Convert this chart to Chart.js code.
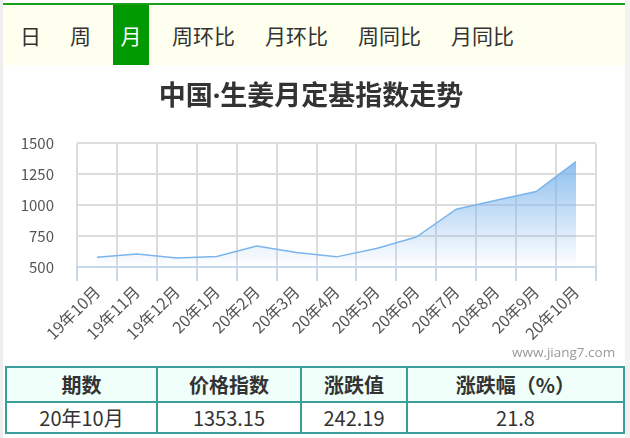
<!DOCTYPE html>
<html>
<head>
<meta charset="utf-8">
<script src="https://cdn.jsdelivr.net/npm/chart.js@4"></script>
<style>
  body { margin: 0; background: #fff; font-family: "Noto Sans CJK SC", sans-serif; }
  .wrap { position: relative; width: 630px; height: 438px; background: #fff; overflow: hidden; }
  .edge-l { position: absolute; left: 0; top: 0; width: 3px; height: 438px; background: #eeeeee; }
  .edge-r { position: absolute; left: 625px; top: 0; width: 5px; height: 438px; background: #f2f2f2; }
  .topline { position: absolute; left: 3px; top: 3px; width: 622px; height: 2px; background: #1aa01a; }
  .tabs { position: absolute; left: 3px; top: 5px; width: 622px; height: 60px; background: #fffff0; }
  .tab { position: absolute; top: 0; height: 60px; line-height: 60px; font-size: 21px; color: #333; }
  .tab.on { background: #009900; color: #fff; text-align: center; }
  #box { position: absolute; left: 3px; top: 65px; width: 622px; height: 300px; }
  .mark { position: absolute; left: 512px; top: 343px; font-size: 13.5px; color: #999; font-family: "Open Sans", sans-serif; }
  table { position: absolute; left: 5px; top: 366px; width: 620px; border-collapse: collapse; }
  td { border: 2px solid #3a9e9a; text-align: center; font-size: 20px; color: #333; padding: 0; }
  tr.head td { background: #f0fffa; font-weight: bold; height: 33px; }
  tr.row td { height: 29px; }
</style>
</head>
<body>
<div class="wrap">
  <div class="edge-l"></div>
  <div class="edge-r"></div>
  <div class="topline"></div>
  <div class="tabs">
    <span class="tab" style="left:17px">日</span>
    <span class="tab" style="left:67px">周</span>
    <span class="tab on" style="left:110px;width:36px">月</span>
    <span class="tab" style="left:169px">周环比</span>
    <span class="tab" style="left:262px">月环比</span>
    <span class="tab" style="left:355px">周同比</span>
    <span class="tab" style="left:448px">月同比</span>
  </div>
  <div id="box"><canvas id="myChart"></canvas></div>
  <div class="mark">www.jiang7.com</div>
  <table>
    <tr class="head"><td style="width:149px">期数</td><td style="width:142px">价格指数</td><td style="width:104px">涨跌值</td><td>涨跌幅（%）</td></tr>
    <tr class="row"><td>20年10月</td><td>1353.15</td><td>242.19</td><td>21.8</td></tr>
  </table>
</div>
<script>
var months = ['19年10月', '19年11月', '19年12月', '20年1月', '20年2月', '20年3月', '20年4月',
              '20年5月', '20年6月', '20年7月', '20年8月', '20年9月', '20年10月'];
var indexValues = [579, 606, 573, 585, 669, 617, 582, 650, 742, 968, 1040, 1110.96, 1353.15];
var yTicks = [500, 750, 1000, 1250, 1500];

var ctx = document.getElementById('myChart').getContext('2d');
var chart = new Chart(ctx, {
    type: 'line',
    data: {
        labels: months,
        datasets: [{
            label: '定基指数',
            data: indexValues,
            borderColor: '#7cb5ec',
            borderWidth: 1.5,
            pointRadius: 0,
            tension: 0,
            fill: 'start',
            backgroundColor: function (c) {
                var area = c.chart.chartArea;
                if (!area) return 'rgba(124,181,236,0.5)';
                var g = c.chart.ctx.createLinearGradient(0, area.top, 0, area.bottom);
                g.addColorStop(0, 'rgba(124,181,236,1)');
                g.addColorStop(1, 'rgba(124,181,236,0)');
                return g;
            }
        }]
    },
    options: {
        responsive: true,
        maintainAspectRatio: false,
        animation: false,
        layout: { padding: { left: 0, right: 6, top: 0, bottom: 0 } },
        plugins: {
            legend: { display: false },
            tooltip: { enabled: false },
            title: {
                display: true,
                text: '中国·生姜月定基指数走势',
                color: '#333',
                // latin font first so the middle dot stays narrow
                font: { size: 27, weight: 'bold', family: '"Noto Sans", "Noto Sans CJK SC", sans-serif', lineHeight: 1.2 },
                padding: { top: 16, bottom: 30 }
            }
        },
        scales: {
            x: {
                type: 'category',
                offset: true,
                afterFit: function (s) { s.height = 98; },
                grid: {
                    offset: true,
                    color: '#dcdcdc',
                    lineWidth: 2,
                    tickLength: 14,
                    tickColor: '#c8d8ea',
                    drawTicks: true
                },
                border: { display: true, color: '#c8d8ea', width: 2 },
                ticks: {
                    color: '#555',
                    font: { size: 16, family: '"Noto Sans CJK SC", sans-serif' },
                    minRotation: 45,
                    maxRotation: 45,
                    padding: 1,
                    autoSkip: false
                }
            },
            y: {
                min: 500,
                max: 1500,
                afterFit: function (s) { s.width = 74; },
                afterBuildTicks: function (s) { s.ticks = yTicks.map(function (v) { return { value: v }; }); },
                grid: { color: '#dcdcdc', lineWidth: 2, drawTicks: false },
                border: { display: false },
                ticks: {
                    color: '#555',
                    padding: 23,
                    font: { size: 15, family: '"Noto Sans CJK SC", sans-serif' },
                    callback: function (v) { return String(v); }
                }
            },
            // empty right axis: only reserves space right of the plot
            yRight: {
                position: 'right',
                min: 500,
                max: 1500,
                afterFit: function (s) { s.width = 23; },
                grid: { display: false, drawTicks: false },
                border: { display: false },
                ticks: { display: false }
            }
        }
    }
});
</script>
</body>
</html>
